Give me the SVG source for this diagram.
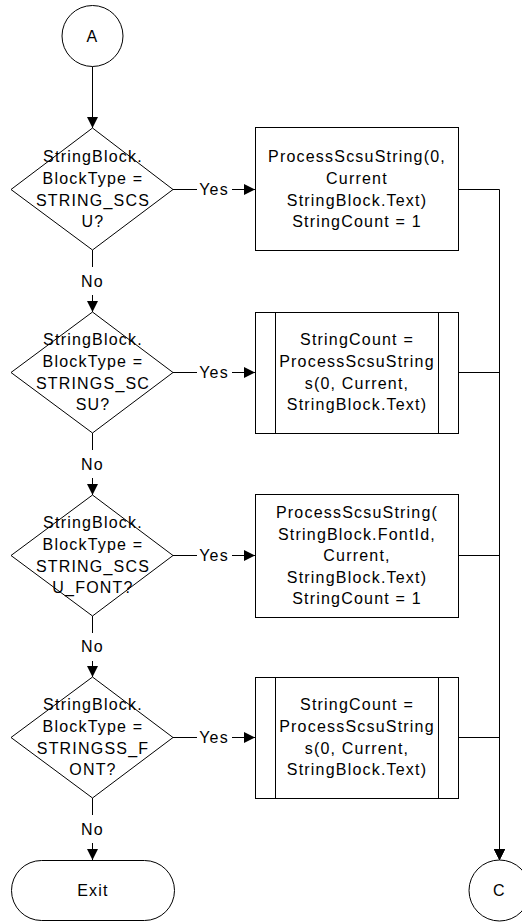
<svg xmlns="http://www.w3.org/2000/svg" width="522" height="922" viewBox="0 0 522 922">
<style>
.s{fill:#fff;stroke:#000;stroke-width:1}
.l{fill:none;stroke:#000;stroke-width:1}
text{font-family:"Liberation Sans",Arial,sans-serif;font-size:16px;fill:#000;text-anchor:middle;letter-spacing:1.2px}
</style>
<defs>
<marker id="ah" markerWidth="11" markerHeight="11" viewBox="0 0 11 11" refX="11" refY="5.5" orient="auto" markerUnits="userSpaceOnUse">
<path d="M0,0 L11,5.5 L0,11 Z" fill="#000"/>
</marker>
</defs>
<g id="connectors">
<path class="l" d="M92.5,66.5 V128" marker-end="url(#ah)"/>
<path class="l" d="M173,189.5 H197 M232,189.5 H255" marker-end="url(#ah)"/>
<path class="l" d="M173,372.5 H197 M232,372.5 H255" marker-end="url(#ah)"/>
<path class="l" d="M173,555.5 H197 M232,555.5 H255" marker-end="url(#ah)"/>
<path class="l" d="M173,737.5 H197 M232,737.5 H255" marker-end="url(#ah)"/>
<path class="l" d="M92.5,250 V267 M92.5,295 V312" marker-end="url(#ah)"/>
<path class="l" d="M92.5,433 V450 M92.5,478 V495" marker-end="url(#ah)"/>
<path class="l" d="M92.5,616 V633 M92.5,661 V677" marker-end="url(#ah)"/>
<path class="l" d="M92.5,798 V815 M92.5,843 V860" marker-end="url(#ah)"/>
<path class="l" d="M458,189.5 H499.5 V860" marker-end="url(#ah)"/>
<path class="l" d="M458,372.5 H499.5 V860" marker-end="url(#ah)"/>
<path class="l" d="M458,555.5 H499.5 V860" marker-end="url(#ah)"/>
<path class="l" d="M458,737.5 H499.5 V860" marker-end="url(#ah)"/>
<text x="214" y="195.2">Yes</text>
<text x="214" y="378.2">Yes</text>
<text x="214" y="561.2">Yes</text>
<text x="214" y="743.2">Yes</text>
<text x="92.5" y="286.7">No</text>
<text x="92.5" y="469.7">No</text>
<text x="92.5" y="652.2">No</text>
<text x="92.5" y="834.7">No</text>
</g>
<g id="A">
<circle class="s" cx="92.5" cy="36" r="30.5"/>
<text x="92.5" y="41.7">A</text>
</g>
<g id="d1">
<path class="s" d="M92.5,128 L173,189.5 L92.5,250 L11,189.5 Z"/>
<text x="93" y="162.3">StringBlock.</text>
<text x="93" y="183.9">BlockType =</text>
<text x="93" y="205.5">STRING_SCS</text>
<text x="93" y="227.1">U?</text>
</g>
<g id="b1">
<rect class="s" x="255.5" y="127.5" width="203" height="123"/>
<text x="357" y="162.3">ProcessScsuString(0,</text>
<text x="357" y="183.9">Current</text>
<text x="357" y="205.5">StringBlock.Text)</text>
<text x="357" y="227.1">StringCount = 1</text>
</g>
<g id="d2">
<path class="s" d="M92.5,312 L173,372.5 L92.5,433 L11,372.5 Z"/>
<text x="93" y="345.3">StringBlock.</text>
<text x="93" y="366.9">BlockType =</text>
<text x="93" y="388.5">STRINGS_SC</text>
<text x="93" y="410.1">SU?</text>
</g>
<g id="b2">
<rect class="s" x="255.5" y="312.5" width="203" height="121"/>
<path class="l" d="M275.5,312.5 V433.5 M438.5,312.5 V433.5"/>
<text x="357" y="345.3">StringCount =</text>
<text x="357" y="366.9">ProcessScsuString</text>
<text x="357" y="388.5">s(0, Current,</text>
<text x="357" y="410.1">StringBlock.Text)</text>
</g>
<g id="d3">
<path class="s" d="M92.5,495 L173,555.5 L92.5,616 L11,555.5 Z"/>
<text x="93" y="528.3">StringBlock.</text>
<text x="93" y="549.9">BlockType =</text>
<text x="93" y="571.5">STRING_SCS</text>
<text x="93" y="593.1">U_FONT?</text>
</g>
<g id="b3">
<rect class="s" x="255.5" y="494.5" width="203" height="123"/>
<text x="357" y="518">ProcessScsuString(</text>
<text x="357" y="539.6">StringBlock.FontId,</text>
<text x="357" y="561.2">Current,</text>
<text x="357" y="582.8">StringBlock.Text)</text>
<text x="357" y="604.4">StringCount = 1</text>
</g>
<g id="d4">
<path class="s" d="M92.5,677 L173,737.5 L92.5,798 L11,737.5 Z"/>
<text x="93" y="710.3">StringBlock.</text>
<text x="93" y="731.9">BlockType =</text>
<text x="93" y="753.5">STRINGSS_F</text>
<text x="93" y="775.1">ONT?</text>
</g>
<g id="b4">
<rect class="s" x="255.5" y="677.5" width="203" height="121"/>
<path class="l" d="M275.5,677.5 V798.5 M438.5,677.5 V798.5"/>
<text x="357" y="710.3">StringCount =</text>
<text x="357" y="731.9">ProcessScsuString</text>
<text x="357" y="753.5">s(0, Current,</text>
<text x="357" y="775.1">StringBlock.Text)</text>
</g>
<g id="exit">
<rect class="s" x="11.5" y="860.5" width="163" height="60" rx="30" ry="30"/>
<text x="93" y="896.2">Exit</text>
</g>
<g id="C">
<circle class="s" cx="499.5" cy="890.5" r="30.5"/>
<text x="499.5" y="896.2">C</text>
</g>
</svg>
